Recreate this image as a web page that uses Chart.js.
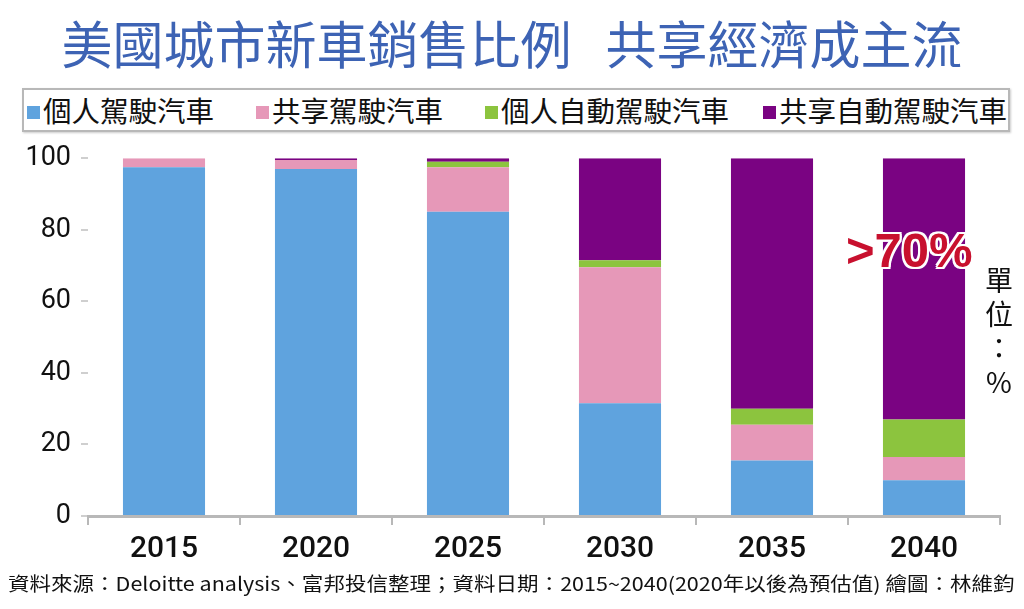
<!DOCTYPE html>
<html>
<head>
<meta charset="utf-8">
<script src="https://cdn.jsdelivr.net/npm/chart.js@4"></script>
<style>
  html, body { margin: 0; padding: 0; background: #fff; }
  body { width: 1024px; height: 609px; position: relative; overflow: hidden; font-family: "Noto Sans CJK TC", "Noto Sans", sans-serif; }
  .title { position: absolute; left: 0; width: 1024px; top: 10px; text-align: center; font-size: 51px; line-height: 64px; color: #3d63b4; font-weight: 400; white-space: nowrap; }
  .title span + span { margin-left: 34px; }
  .legend { position: absolute; left: 22px; top: 88px; width: 984px; height: 40px; border: 2px solid #b8b8b8; box-shadow: 1px 1px 2px #ccc; }
  .legend .item { position: absolute; top: 0; height: 40px; line-height: 40px; font-size: 28.5px; color: #111; white-space: nowrap; }
  .legend .sw { display: inline-block; width: 13px; height: 13px; margin-right: 3px; vertical-align: 3px; }
  #wrap { position: absolute; left: 0; top: 132px; width: 1024px; height: 438px; }
  .unit { position: absolute; left: 982px; top: 262px; width: 34px; text-align: center; font-size: 28px; line-height: 34px; color: #111; }
  .big { position: absolute; left: 846px; top: 222px; font-family: "Liberation Sans", Arial, sans-serif; font-weight: bold; font-size: 49px; color: #c8102e;
         text-shadow: -2px -2px 0 #fff, 2px -2px 0 #fff, -2px 2px 0 #fff, 2px 2px 0 #fff, 0 2px 0 #fff, 0 -2px 0 #fff, 2px 0 0 #fff, -2px 0 0 #fff; }
  .source { position: absolute; left: 8px; top: 570px; font-size: 19px; line-height: 26px; color: #111; white-space: nowrap; transform-origin: left top; }
</style>
</head>
<body>
<div class="title"><span>美國城市新車銷售比例</span><span>共享經濟成主流</span></div>
<div class="legend" id="legend"></div>
<div id="wrap"><canvas id="chart"></canvas></div>
<div class="big">&gt;70%</div>
<div class="unit">單<br>位<br>：<br>%</div>
<div class="source" id="source">資料來源：Deloitte analysis、富邦投信整理；資料日期：2015~2040(2020年以後為預估值) 繪圖：林維鈞</div>

<script>
// 年份
const years = ['2015', '2020', '2025', '2030', '2035', '2040'];

// 各類型比例 (%)
const personalDriven = [97.5, 97, 85, 31.5, 15.5, 10];
const sharedDriven = [2.5, 2.5, 12.5, 38, 10, 6.5];
const personalAuto = [0, 0, 1.5, 2, 4.5, 10.5];
const sharedAuto = [0, 0.5, 1, 28.5, 70, 73];

const seriesNames = ['個人駕駛汽車', '共享駕駛汽車', '個人自動駕駛汽車', '共享自動駕駛汽車'];
const seriesColors = ['#5fa3de', '#e698b8', '#8cc43e', '#7a0382'];
const yTicks = [0, 20, 40, 60, 80, 100];

// 圖例 (自訂外框)
const legendLeft = [3, 232, 461, 739];
const legend = document.getElementById('legend');
seriesNames.forEach((name, i) => {
  const item = document.createElement('div');
  item.className = 'item';
  item.style.left = legendLeft[i] + 'px';
  item.innerHTML = `<span class="sw" style="background:${seriesColors[i]}"></span>${name}`;
  legend.appendChild(item);
});

// 資料來源文字壓縮到原圖寬度
const source = document.getElementById('source');
source.style.transform = `scaleX(${1007 / source.scrollWidth})`;

const values = [personalDriven, sharedDriven, personalAuto, sharedAuto];

new Chart(document.getElementById('chart'), {
  type: 'bar',
  data: {
    labels: years,
    datasets: values.map((data, i) => ({
      label: seriesNames[i],
      data,
      backgroundColor: seriesColors[i],
      borderWidth: 0,
      barPercentage: 0.54,
      categoryPercentage: 1
    }))
  },
  options: {
    responsive: true,
    maintainAspectRatio: false,
    animation: false,
    layout: { padding: { top: 0, right: 24, left: 0, bottom: 0 } },
    plugins: { legend: { display: false }, tooltip: { enabled: false } },
    scales: {
      x: {
        stacked: true,
        afterFit(scale) { scale.height = 54; },
        grid: { offset: true, drawOnChartArea: false, drawTicks: true, tickLength: 9, color: '#b8b8b8', lineWidth: 2 },
        border: { display: true, color: '#b8b8b8', width: 3 },
        ticks: { color: '#111', padding: 6, font: { family: 'Roboto, "Noto Sans", sans-serif', size: 30, weight: '500' } }
      },
      y: {
        stacked: true,
        min: 0,
        max: 100,
        afterFit(scale) { scale.width = 88; },
        afterBuildTicks(scale) { scale.ticks = yTicks.map(v => ({ value: v })); },
        grid: { drawOnChartArea: false, drawTicks: true, tickLength: 7, color: '#cfcfcf', lineWidth: 2 },
        border: { display: false },
        ticks: { color: '#111', padding: 10, font: { family: 'Roboto, "Noto Sans", sans-serif', size: 27 } }
      }
    }
  }
});
</script>
</body>
</html>
